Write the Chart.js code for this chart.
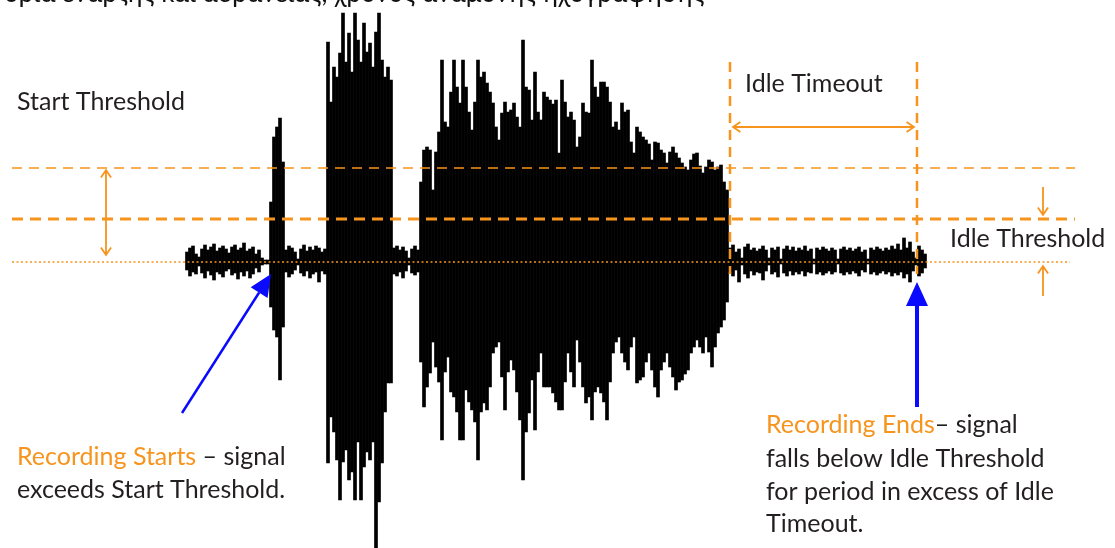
<!DOCTYPE html>
<html>
<head>
<meta charset="utf-8">
<script src="https://cdn.jsdelivr.net/npm/chart.js@4.4.1/dist/chart.umd.min.js"></script>
<style>
  html, body { margin: 0; padding: 0; background: #fff; }
  #wrap { width: 1115px; height: 548px; position: relative; }
</style>
</head>
<body>
<div id="wrap"><canvas id="recording-chart"></canvas></div>
<script>
// waveform envelope, one sample every 3 time units starting at t = 187
const sampleStart = 187;
const sampleStep = 3;

const waveUpper = [
  // background noise
  10,14,16,8,5,13,17,12,15,18,11,14,16,13,9,15,17,12,14,19,11,13,15,8,12,4,
  // short pause + first burst
  2,2, 60,125,135,144,100,
  // noise
  12,16,14,10,3,13,17,11,15,12,16,14,10,13,
  // big burst
  220,160,195,185,209,249,200,229,190,249,222,200,239,210,219,195,230,249,202,185,195,182,
  // noise
  14,16,12,15,11,4,13,16,12,
  // long speech
  80,112,115,112,72,110,130,202,140,135,
  170,202,175,159,202,175,150,132,160,202,
  185,190,179,170,159,135,122,149,160,150,
  152,159,145,135,222,175,172,142,190,150,
  142,170,165,162,158,162,109,182,160,145,
  150,142,115,125,159,150,149,202,175,165,
  180,180,175,160,135,140,132,159,150,152,
  120,109,135,130,125,122,118,102,120,119,
  112,109,99,110,115,109,104,99,95,92,
  102,108,109,96,89,95,102,100,92,95,
  97,80,72,
  // idle noise
  14,17,10,13,4,15,18,12,14,11,
  13,16,12,4,14,12,15,3,13,16,
  12,15,11,14,12,16,11,13,3,14,
  12,15,13,11,14,12,3,13,15,12,
  14,11,13,15,10,12,3,14,12,15,
  13,11,14,12,16,13,18,12,24,14,
  20,10,4,16,12,8
];

const waveLower = [
  -8,-14,-10,-12,-4,-11,-16,-9,-13,-18,-10,-12,-15,-9,-7,-13,-11,-17,-10,-14,-9,-16,-12,-6,-10,-3,
  -2,-2, -45,-68,-75,-118,-65,
  -10,-15,-12,-8,-3,-11,-14,-9,-16,-12,-10,-20,-9,-12,
  -201,-155,-170,-198,-238,-200,-188,-218,-210,-238,-180,-238,-205,-190,-198,-180,-286,-240,-201,-150,-121,-121,
  -12,-14,-10,-16,-9,-3,-11,-13,-10,
  -100,-145,-125,-111,-80,-105,-120,-178,-110,-95,
  -130,-135,-150,-178,-178,-128,-140,-148,-160,-198,
  -150,-141,-148,-125,-91,-85,-80,-115,-148,-110,
  -98,-108,-130,-158,-218,-170,-151,-118,-168,-110,
  -91,-125,-125,-125,-131,-140,-148,-148,-120,-91,
  -110,-125,-78,-100,-125,-141,-135,-158,-130,-125,
  -131,-140,-158,-120,-91,-80,-75,-91,-100,-108,
  -85,-75,-121,-118,-115,-100,-91,-108,-125,-135,
  -108,-100,-91,-105,-115,-128,-120,-118,-112,-108,
  -91,-85,-78,-85,-91,-75,-90,-105,-85,-71,
  -65,-58,-40,
  -10,-14,-8,-20,-3,-12,-16,-9,-13,-10,
  -11,-18,-9,-3,-12,-10,-15,-2,-11,-14,
  -9,-13,-10,-12,-9,-14,-10,-11,-2,-12,
  -10,-13,-11,-9,-12,-10,-2,-11,-13,-10,
  -12,-9,-11,-14,-8,-10,-2,-12,-10,-13,
  -11,-9,-12,-10,-14,-11,-13,-10,-16,-12,
  -20,-9,-3,-14,-11,-6
];

// thresholds (amplitude) and the span they are drawn over (time)
const startThreshold = 94;
const idleThreshold = 43;
const baseline = 0;
const guideSpan = [12, 1075];

// idle timeout period (time)
const idleTimeout = [730, 917];

const orange = "#f7941d";
const ink = "#231f20";
const blue = "#0a0aff";
const font = 'Lato, "Noto Sans", "DejaVu Sans", sans-serif';

const waveData = waveUpper.map((hi, i) => ({
  x: sampleStart + i * sampleStep,
  y: [waveLower[i], hi],
}));

function hLine(value, end, dash, width) {
  return {
    type: "line",
    data: [{ x: guideSpan[0], y: value }, { x: end, y: value }],
    borderColor: orange,
    borderWidth: width,
    borderDash: dash,
    pointRadius: 0,
    order: 0,
  };
}

function openArrow(ctx, x1, y1, x2, y2, both) {
  const a = Math.atan2(y2 - y1, x2 - x1);
  const s = 9;
  ctx.beginPath();
  ctx.moveTo(x1, y1);
  ctx.lineTo(x2, y2);
  ctx.moveTo(x2 - s * Math.cos(a - 0.6), y2 - s * Math.sin(a - 0.6));
  ctx.lineTo(x2, y2);
  ctx.lineTo(x2 - s * Math.cos(a + 0.6), y2 - s * Math.sin(a + 0.6));
  if (both) {
    ctx.moveTo(x1 + s * Math.cos(a - 0.6), y1 + s * Math.sin(a - 0.6));
    ctx.lineTo(x1, y1);
    ctx.lineTo(x1 + s * Math.cos(a + 0.6), y1 + s * Math.sin(a + 0.6));
  }
  ctx.stroke();
}

function solidArrow(ctx, x1, y1, x2, y2, width, head, half) {
  const a = Math.atan2(y2 - y1, x2 - x1);
  const bx = x2 - head * Math.cos(a), by = y2 - head * Math.sin(a);
  ctx.lineWidth = width;
  ctx.beginPath();
  ctx.moveTo(x1, y1);
  ctx.lineTo(bx, by);
  ctx.stroke();
  ctx.beginPath();
  ctx.moveTo(x2, y2);
  ctx.lineTo(bx + half * Math.sin(a), by - half * Math.cos(a));
  ctx.lineTo(bx - half * Math.sin(a), by + half * Math.cos(a));
  ctx.closePath();
  ctx.fill();
}

// labels, arrows and idle timeout guides
const notes = {
  id: "notes",
  afterDatasetsDraw(chart) {
    const { ctx, scales: { x, y } } = chart;
    const px = (v) => x.getPixelForValue(v);
    const py = (v) => y.getPixelForValue(v);
    ctx.save();

    // idle timeout guides
    ctx.strokeStyle = orange;
    ctx.lineWidth = 2.5;
    ctx.setLineDash([10, 7]);
    idleTimeout.forEach((t) => {
      ctx.beginPath();
      ctx.moveTo(px(t), py(200));
      ctx.lineTo(px(t), py(-12));
      ctx.stroke();
    });
    ctx.setLineDash([]);

    // orange arrows
    ctx.lineWidth = 1.8;
    openArrow(ctx, px(106), py(startThreshold - 2), px(106), py(baseline + 7), true);
    openArrow(ctx, px(idleTimeout[0] + 3), py(135), px(idleTimeout[1] - 3), py(135), true);
    openArrow(ctx, px(1043), py(75), px(1043), py(idleThreshold + 4), false);
    openArrow(ctx, px(1043), py(-34), px(1043), py(baseline - 4), false);

    // blue arrows
    ctx.strokeStyle = blue;
    ctx.fillStyle = blue;
    solidArrow(ctx, px(182), py(-151), px(271), py(-12), 2.5, 22, 10);
    solidArrow(ctx, px(917), py(-145), px(917), py(-20), 4, 24, 11);

    // text
    ctx.font = "25px " + font;
    ctx.textBaseline = "alphabetic";
    ctx.fillStyle = ink;
    ctx.fillText("Start Threshold", px(17), py(152));
    ctx.fillText("Idle Timeout", px(745), py(170));
    ctx.fillText("Idle Threshold", px(950), py(15));

    const mixed = (lead, rest, tx, ty) => {
      ctx.fillStyle = orange;
      ctx.fillText(lead, tx, ty);
      const w = ctx.measureText(lead).width;
      ctx.fillStyle = ink;
      ctx.fillText(rest, tx + w, ty);
    };
    mixed("Recording Starts", " \u2013 signal", px(17), py(-203));
    ctx.fillText("exceeds Start Threshold.", px(17), py(-236));

    mixed("Recording Ends", "\u2013 signal", px(766), py(-171));
    ctx.fillText("falls below Idle Threshold", px(766), py(-205));
    ctx.fillText("for period in excess of Idle", px(766), py(-238));
    ctx.fillText("Timeout.", px(766), py(-270));

    // clipped caption from the page above
    ctx.font = "26px " + font;
    ctx.fillStyle = "#111";
    ctx.fillText("όρια έναρξης και αδράνειας, χρόνος αναμονής ηχογράφησης", px(4), py(260));

    ctx.restore();
  },
};

new Chart(document.getElementById("recording-chart"), {
  data: {
    datasets: [
      hLine(startThreshold, guideSpan[1], [10, 7], 1.5),
      hLine(idleThreshold, guideSpan[1], [11, 7], 3),
      hLine(baseline, 1070, [2, 2.5], 1.6),
      {
        type: "bar",
        label: "Signal",
        data: waveData,
        backgroundColor: "#000",
        borderWidth: 0,
        barPercentage: 1,
        categoryPercentage: 1,
        order: 1,
      },
    ],
  },
  options: {
    responsive: true,
    maintainAspectRatio: false,
    animation: false,
    layout: { padding: 0 },
    plugins: { legend: { display: false }, tooltip: { enabled: false } },
    scales: {
      x: { type: "linear", min: 0, max: 1115, offset: false, display: false },
      y: { type: "linear", min: -286, max: 262, display: false },
    },
  },
  plugins: [notes],
});
</script>
</body>
</html>
